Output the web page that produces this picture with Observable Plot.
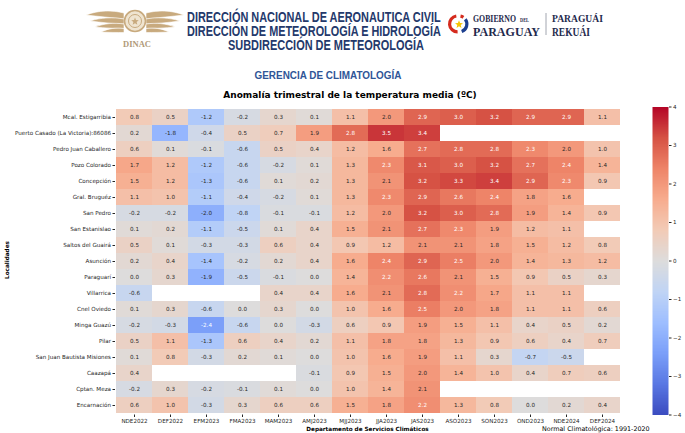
<!DOCTYPE html>
<html><head><meta charset="utf-8">
<script src="https://cdn.jsdelivr.net/npm/d3@7"></script>
<script src="https://cdn.jsdelivr.net/npm/@observablehq/plot@0.6"></script>
<style>
body{margin:0;background:#fff;}
#wrap{position:relative;width:685px;height:433px;overflow:hidden;font-family:"DejaVu Sans",sans-serif;}
#wrap > *{position:absolute;}
</style></head><body><div id="wrap"></div>
<script>
// ---- data ----
const localidades = ["Mcal. Estigarribia","Puerto Casado (La Victoria):86086","Pedro Juan Caballero","Pozo Colorado","Concepción","Gral. Bruguéz","San Pedro","San Estanislao","Saltos del Guairá","Asunción","Paraguarí","Villarrica","Cnel Oviedo","Minga Guazú","Pilar","San Juan Bautista Misiones","Caazapá","Cptan. Meza","Encarnación"];
const trimestres = ["NDE2022","DEF2022","EFM2023","FMA2023","MAM2023","AMJ2023","MJJ2023","JJA2023","JAS2023","ASO2023","SON2023","OND2023","NDE2024","DEF2024"];
const mcalEstigarribia = [0.8,0.5,-1.2,-0.2,0.3,0.1,1.1,2.0,2.9,3.0,3.2,2.9,2.9,1.1];
const puertoCasado     = [0.2,-1.8,-0.4,0.5,0.7,1.9,2.8,3.5,3.4,null,null,null,null,null];
const pedroJuan        = [0.6,0.1,-0.1,-0.6,0.5,0.4,1.2,1.6,2.7,2.8,2.8,2.3,2.0,1.0];
const pozoColorado     = [1.7,1.2,-1.2,-0.6,-0.2,0.1,1.3,2.3,3.1,3.0,3.2,2.7,2.4,1.4];
const concepcion       = [1.5,1.2,-1.3,-0.6,0.1,0.2,1.3,2.1,3.2,3.3,3.4,2.9,2.3,0.9];
const gralBruguez      = [1.1,1.0,-1.1,-0.4,-0.2,0.1,1.3,2.3,2.9,2.6,2.4,1.8,1.6,null];
const sanPedro         = [-0.2,-0.2,-2.0,-0.8,-0.1,-0.1,1.2,2.0,3.2,3.0,2.8,1.9,1.4,0.9];
const sanEstanislao    = [0.1,0.2,-1.1,-0.5,0.1,0.4,1.5,2.1,2.7,2.3,1.9,1.2,1.1,null];
const saltosGuaira     = [0.5,0.1,-0.3,-0.3,0.6,0.4,0.9,1.2,2.1,2.1,1.8,1.5,1.2,0.8];
const asuncion         = [0.2,0.4,-1.4,-0.2,0.2,0.4,1.6,2.4,2.9,2.5,2.0,1.4,1.3,1.2];
const paraguari        = [0.0,0.3,-1.9,-0.5,-0.1,0.0,1.4,2.2,2.6,2.1,1.5,0.9,0.5,0.3];
const villarrica       = [-0.6,null,null,null,0.4,0.4,1.6,2.1,2.8,2.2,1.7,1.1,1.1,null];
const cnelOviedo       = [0.1,0.3,-0.6,0.0,0.3,0.0,1.0,1.6,2.5,2.0,1.8,1.1,1.1,0.6];
const mingaGuazu       = [-0.2,-0.3,-2.4,-0.6,0.0,-0.3,0.6,0.9,1.9,1.5,1.1,0.4,0.5,0.2];
const pilar            = [0.5,1.1,-1.3,0.6,0.4,0.2,1.1,1.8,1.8,1.3,0.9,0.6,0.4,0.7];
const sanJuanBautista  = [0.1,0.8,-0.3,0.2,0.1,0.0,1.0,1.6,1.9,1.1,0.3,-0.7,-0.5,null];
const caazapa          = [0.4,null,null,null,null,-0.1,0.9,1.5,2.0,1.4,1.0,0.4,0.7,0.6];
const cptanMeza        = [-0.2,0.3,-0.2,-0.1,0.1,0.0,1.0,1.4,2.1,null,null,null,null,null];
const encarnacion      = [0.6,1.0,-0.3,0.3,0.6,0.6,1.5,1.8,2.2,1.3,0.8,0.0,0.2,0.4];
const valores = [mcalEstigarribia,puertoCasado,pedroJuan,pozoColorado,concepcion,gralBruguez,sanPedro,sanEstanislao,saltosGuaira,asuncion,paraguari,villarrica,cnelOviedo,mingaGuazu,pilar,sanJuanBautista,caazapa,cptanMeza,encarnacion];
const colorbarTicks = [-4,-3,-2,-1,0,1,2,3,4];
const coolwarm = ["#3b4cc0","#5977e3","#7b9ff9","#9ebeff","#c0d4f5","#dddcdc","#f2cbb7","#f7ac8e","#ee8468","#d65244","#b40426"];

const data = localidades.flatMap((loc, i) => trimestres.map((t, j) => ({loc, t, v: valores[i][j]}))).filter(d => d.v !== null);
const colorScale = {type: "linear", domain: coolwarm.map((c, i) => -4 + i * 0.8), range: coolwarm, clamp: true};
const isDark = d => d.v >= 2.15 || d.v <= -2.2;

const wrap = document.getElementById("wrap");

const chart = Plot.plot({
  width: 685, height: 333,
  marginLeft: 115, marginRight: 65, marginTop: 6.5, marginBottom: 18.5,
  style: {fontFamily: "DejaVu Sans, sans-serif", fontSize: "5.6px", color: "#262626", background: "transparent"},
  x: {domain: trimestres, padding: 0, label: null, tickSize: 2.5, tickPadding: 2},
  y: {domain: localidades, padding: 0, label: null, tickSize: 2.5, tickPadding: 2},
  color: colorScale,
  marks: [
    Plot.cell(data, {x: "t", y: "loc", fill: "v", inset: 0}),
    Plot.text(data.filter(d => !isDark(d)), {x: "t", y: "loc", text: d => d.v.toFixed(1), fill: "#262626", fontSize: 5.6}),
    Plot.text(data.filter(isDark), {x: "t", y: "loc", text: d => d.v.toFixed(1), fill: "white", fontSize: 5.6})
  ]
});
chart.style.left = "0px"; chart.style.top = "100px";
wrap.appendChild(chart);

const bar = Plot.plot({
  width: 40, height: 333,
  marginLeft: 0, marginRight: 24, marginTop: 6.5, marginBottom: 18.5,
  style: {fontFamily: "DejaVu Sans, sans-serif", fontSize: "5.6px", color: "#262626", background: "transparent"},
  x: {domain: [0, 1], axis: null},
  y: {domain: [-4, 4], axis: "right", ticks: colorbarTicks, tickFormat: d => d < 0 ? "\u2212" + (-d) : String(d), tickSize: 2.5, tickPadding: 2, label: null},
  color: colorScale,
  marks: [
    Plot.raster({x1: 0, x2: 1, y1: -4, y2: 4, width: 1, height: 400, fill: (x, y) => y, imageRendering: "auto"})
  ]
});
bar.style.left = "652px"; bar.style.top = "100px";
wrap.appendChild(bar);

// ---- overlay texts & logos ----
function star(cx, cy, R, r) {
  const pts = [];
  for (let k = 0; k < 10; k++) {
    const a = -Math.PI / 2 + k * Math.PI / 5, rr = k % 2 ? r : R;
    pts.push((cx + rr * Math.cos(a)).toFixed(2) + "," + (cy + rr * Math.sin(a)).toFixed(2));
  }
  return pts.join(" ");
}
const wing = `
  <path d="M124,13 C112,10 99,10 86,15 C98,16.5 111,17.5 124,19 Z"/>
  <path d="M124,19 C113,17 101,17.5 90,21 C101,22.5 113,23.5 124,24 Z"/>
  <path d="M124,24 C114,22.5 104,23.5 95,27 C105,28 115,28.5 124,28.5 Z"/>
  <path d="M124,28.5 C116,27.5 108,28.5 101,32 C109,32.5 117,32.5 124,32.5 Z"/>`;
const ov = document.createElementNS("http://www.w3.org/2000/svg", "svg");
ov.setAttribute("width", 685); ov.setAttribute("height", 433);
ov.style.left = "0px"; ov.style.top = "0px"; ov.style.pointerEvents = "none";
const hfont = `font-family="Liberation Sans Narrow, Liberation Sans, Arial, sans-serif" font-weight="bold"`;
const sfont = `font-family="Liberation Serif, DejaVu Serif, serif" font-weight="bold"`;
// texts with data-w are squeezed to the given width with a horizontal scale
ov.innerHTML = `
  <g fill="#c8aa7e" stroke="#fff" stroke-width="0.6">${wing}</g>
  <g fill="#c8aa7e" stroke="#fff" stroke-width="0.6" transform="translate(270,0) scale(-1,1)">${wing}</g>
  <circle cx="135" cy="21" r="10.5" fill="#efe4d0" stroke="#c8aa7e" stroke-width="1.6"/>
  <circle cx="135" cy="21" r="6.5" fill="none" stroke="#c8aa7e" stroke-width="1"/>
  <polygon points="${star(135, 21.5, 4, 1.7)}" fill="#c8aa7e"/>
  <text data-x="137" data-y="46.5" data-w="28" text-anchor="middle" ${sfont} font-size="8" fill="#b09a78">DINAC</text>

  <text data-x="187" data-y="22" data-w="254" ${hfont} font-size="15" fill="#24396b">DIRECCIÓN NACIONAL DE AERONAUTICA CIVIL</text>
  <text data-x="187" data-y="36" data-w="254" ${hfont} font-size="15" fill="#24396b">DIRECCIÓN DE METEOROLOGÍA E HIDROLOGÍA</text>
  <text data-x="228" data-y="50" data-w="196" ${hfont} font-size="15" fill="#24396b">SUBDIRECCIÓN DE METEOROLOGÍA</text>

  <path d="M457.6,31.9 A8,8 0 0 1 456.3,16" fill="none" stroke="#d52b1e" stroke-width="3.2"/>
  <path d="M460.5,16.1 A8,8 0 0 1 463.4,17.3" fill="none" stroke="#d52b1e" stroke-width="3.2"/>
  <path d="M465.3,19.2 A8,8 0 0 1 461.7,31.5" fill="none" stroke="#1d3f8f" stroke-width="3.2"/>
  <polygon points="${star(459, 24.5, 4.2, 1.8)}" fill="#f6c400"/>
  <text data-x="473" data-y="21.8" data-w="43" ${sfont} font-size="10.5" fill="#1f2a4d">GOBIERNO</text>
  <text data-x="520" data-y="21.8" data-w="9" ${sfont} font-size="5.5" fill="#1f2a4d">DEL</text>
  <text data-x="473" data-y="35.8" data-w="67" ${sfont} font-size="12" fill="#1f2a4d">PARAGUAY</text>
  <line x1="546" x2="546" y1="13" y2="35" stroke="#8a8f9c" stroke-width="0.8"/>
  <text data-x="552" data-y="21.8" data-w="51" ${sfont} font-size="10.5" fill="#1f2a4d">PARAGUÁI</text>
  <text data-x="552" data-y="35.8" data-w="38" ${sfont} font-size="12" fill="#1f2a4d">REKUÁI</text>

  <text data-x="328" data-y="79" data-w="147" text-anchor="middle" ${hfont} font-size="11" fill="#2f5597">GERENCIA DE CLIMATOLOGÍA</text>
  <text x="350" y="98" text-anchor="middle" font-family="DejaVu Sans, sans-serif" font-weight="bold" font-size="9" fill="#000">Anomalía trimestral de la temperatura media (ºC)</text>

  <text transform="translate(9,260) rotate(-90)" text-anchor="middle" font-family="DejaVu Sans, sans-serif" font-weight="bold" font-size="5.7" fill="#000">Localidades</text>
  <text x="367.5" y="430.5" text-anchor="middle" font-family="DejaVu Sans, sans-serif" font-weight="bold" font-size="5.7" fill="#000">Departamento de Servicios Climáticos</text>
  <text x="542" y="430.5" font-family="DejaVu Sans, sans-serif" font-size="6.4" fill="#000">Normal Climatológica: 1991-2020</text>
`;
wrap.appendChild(ov);
ov.querySelectorAll("text[data-w]").forEach(el => {
  const len = el.getComputedTextLength() || 1;
  const sx = +el.dataset.w / len;
  el.setAttribute("transform", `translate(${el.dataset.x},${el.dataset.y}) scale(${sx.toFixed(4)},1)`);
});
</script>
</body></html>
